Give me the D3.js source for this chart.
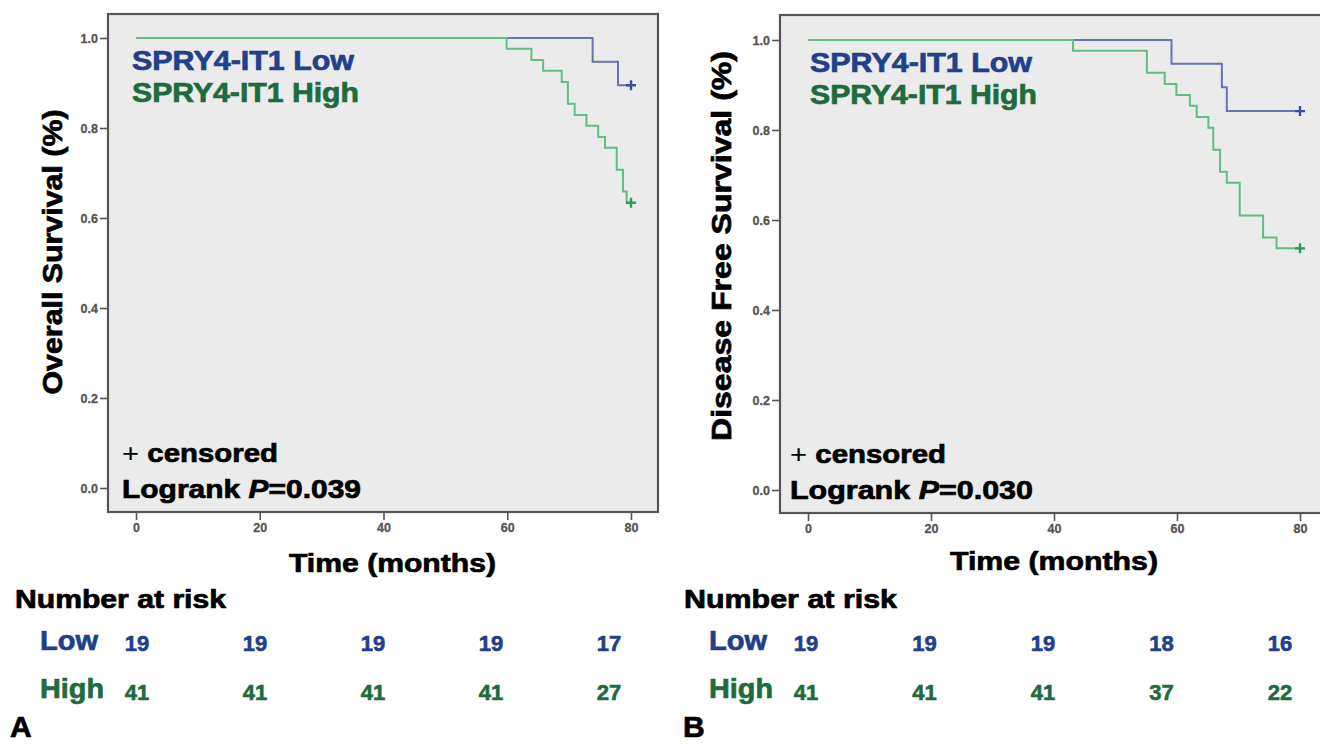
<!DOCTYPE html>
<html>
<head>
<meta charset="utf-8">
<script src="https://cdnjs.cloudflare.com/ajax/libs/d3/7.8.5/d3.min.js"></script>
<style>
body { margin: 0; background: #fff; }
svg { display: block; font-family: "Liberation Sans", Arial, sans-serif; }
</style>
</head>
<body>
<script>
// ---- data ----
var timeTicks = [0, 20, 40, 60, 80];
var survTicks = [0.0, 0.2, 0.4, 0.6, 0.8, 1.0];
var riskCols = [0, 1, 2, 3, 4];

// A: overall survival
var osLowTime  = [0, 73.8, 77.9, 80];
var osLowSurv  = [1, 0.947, 0.895, 0.895];
var osHighTime = [0, 59.9, 63.9, 65.8, 68.8, 69.8, 70.9, 72.8, 74.7, 75.8, 77.7, 78.7, 79.3, 80];
var osHighSurv = [1, 0.976, 0.951, 0.927, 0.902, 0.854, 0.829, 0.805, 0.780, 0.756, 0.707, 0.659, 0.634, 0.634];
var osRiskLow  = [19, 19, 19, 19, 17];
var osRiskHigh = [41, 41, 41, 41, 27];

// B: disease free survival
var dfsLowTime  = [0, 59.1, 67.3, 68.1, 80];
var dfsLowSurv  = [1, 0.947, 0.895, 0.842, 0.842];
var dfsHighTime = [0, 43.1, 55.1, 58.0, 59.9, 62.1, 63.2, 65.1, 65.9, 67.0, 68.1, 70.2, 74.0, 76.2, 80];
var dfsHighSurv = [1, 0.976, 0.927, 0.902, 0.878, 0.854, 0.829, 0.805, 0.756, 0.707, 0.683, 0.610, 0.561, 0.537, 0.537];
var dfsRiskLow  = [19, 19, 19, 18, 16];
var dfsRiskHigh = [41, 41, 41, 37, 22];

var blueText = "#22408a", greenText = "#1d6b3e";
var blueLine = "#6773b2", greenLine = "#62bd80";
var blueMark = "#3b4c9c", greenMark = "#2f9a55";

var svg = d3.select("body").append("svg")
	.attr("width", 1320)
	.attr("height", 744);

function zip(t, s) {
	return t.map(function(d, i) { return {t: d, s: s[i]}; });
}

// heavy bold text, stretched to the measured width
function label(g, x, y, str, size, color, len) {
	var t = g.append("text")
		.attr("x", x).attr("y", y)
		.attr("font-size", size)
		.attr("font-weight", "bold")
		.attr("fill", color)
		.attr("stroke", color)
		.attr("stroke-width", 0.7)
		.text(str);
	if (len) t.attr("textLength", len).attr("lengthAdjust", "spacingAndGlyphs");
	return t;
}

function drawPanel(p) {
	var g = svg.append("g");

	var x = d3.scaleLinear().domain([0, 80]).range(p.xRange);
	var y = d3.scaleLinear().domain([0, 1]).range(p.yRange);

	// plot box
	g.append("rect")
		.attr("x", p.box[0]).attr("y", p.box[1])
		.attr("width", p.box[2] - p.box[0]).attr("height", p.box[3] - p.box[1])
		.attr("fill", "#ebebeb")
		.attr("stroke", "#555")
		.attr("stroke-width", 2.2);

	// axes
	var yAxis = g.append("g")
		.attr("transform", "translate(" + p.box[0] + ",0)")
		.call(d3.axisLeft(y).tickValues(survTicks).tickFormat(d3.format(".1f")).tickSize(8).tickPadding(2));
	var xAxis = g.append("g")
		.attr("transform", "translate(0," + p.box[3] + ")")
		.call(d3.axisBottom(x).tickValues(timeTicks).tickSize(8).tickPadding(3));
	[xAxis, yAxis].forEach(function(a) {
		a.select(".domain").remove();
		a.selectAll("line").attr("stroke", "#555").attr("stroke-width", 1.6);
		a.selectAll("text")
			.attr("font-family", "Liberation Sans, Arial, sans-serif")
			.attr("font-size", 12.5)
			.attr("font-weight", "bold")
			.attr("fill", "#555")
			.attr("stroke", "#555")
			.attr("stroke-width", 0.3);
	});

	// survival curves
	var line = d3.line()
		.x(function(d) { return x(d.t); })
		.y(function(d) { return y(d.s); })
		.curve(d3.curveStepAfter);

	p.curves.forEach(function(c) {
		g.append("path")
			.datum(c.data)
			.attr("fill", "none")
			.attr("stroke", c.color)
			.attr("stroke-width", 2)
			.attr("d", line);
		var last = c.data[c.data.length - 1];
		var cx = x(last.t), cy = y(last.s);
		g.append("path")
			.attr("d", "M" + (cx - 5) + "," + cy + "H" + (cx + 5) + "M" + cx + "," + (cy - 5) + "V" + (cy + 5))
			.attr("stroke", c.mark)
			.attr("stroke-width", 2.4);
	});

	// legend inside plot
	label(g, p.legX, p.legY[0], "SPRY4-IT1 Low", 27, blueText, 222);
	label(g, p.legX, p.legY[1], "SPRY4-IT1 High", 27, greenText, 227);

	var cens = g.append("text")
		.attr("x", p.noteX).attr("y", p.noteY[0])
		.attr("font-size", 26).attr("fill", "#000")
		.attr("textLength", 156).attr("lengthAdjust", "spacingAndGlyphs");
	cens.append("tspan").attr("font-weight", "normal").text("+");
	cens.append("tspan").attr("font-weight", "bold")
		.attr("stroke", "#000").attr("stroke-width", 0.7).text(" censored");

	var lr = g.append("text")
		.attr("x", p.noteX).attr("y", p.noteY[1])
		.attr("font-size", 26).attr("font-weight", "bold").attr("fill", "#000")
		.attr("stroke", "#000").attr("stroke-width", 0.7)
		.attr("textLength", p.pLen).attr("lengthAdjust", "spacingAndGlyphs");
	lr.append("tspan").text("Logrank ");
	lr.append("tspan").attr("font-style", "italic").text("P");
	lr.append("tspan").text("=" + p.pValue);

	// axis titles
	label(g, p.xTitle[0], p.xTitle[1], "Time (months)", 26, "#000", p.xTitle[2]);
	label(g, 0, 0, p.yTitle, 28, "#000", p.yTitleLen)
		.attr("text-anchor", "middle")
		.attr("transform", "translate(" + p.yTitlePos[0] + "," + p.yTitlePos[1] + ") rotate(-90)");

	// number at risk table
	label(g, p.riskX, 608, "Number at risk", 25, "#000", p.riskTitleLen);
	label(g, p.riskX + 25, 650, "Low", 28, blueText, 58);
	label(g, p.riskX + 25, 698, "High", 28, greenText, 64);

	var rx = d3.scalePoint().domain(riskCols).range(p.riskRange);
	[[p.riskLow, 651, blueText], [p.riskHigh, 700, greenText]].forEach(function(row) {
		g.selectAll(null)
			.data(row[0])
			.enter()
			.append("text")
				.attr("x", function(d, i) { return rx(i); })
				.attr("y", row[1])
				.attr("text-anchor", "middle")
				.attr("font-size", 22)
				.attr("font-weight", "bold")
				.attr("fill", row[2])
				.attr("stroke", row[2])
				.attr("stroke-width", 0.6)
				.text(function(d) { return d; });
	});

	label(g, p.letterX, 737, p.letter, 30, "#000");
}

drawPanel({
	box: [108, 14, 658, 512],
	xRange: [136, 631], yRange: [488, 38],
	curves: [
		{data: zip(osLowTime, osLowSurv), color: blueLine, mark: blueMark},
		{data: zip(osHighTime, osHighSurv), color: greenLine, mark: greenMark}
	],
	legX: 132, legY: [70, 102],
	noteX: 122, noteY: [462, 498], pValue: "0.039", pLen: 239,
	xTitle: [289, 572, 207],
	yTitle: "Overall Survival (%)", yTitlePos: [62, 252], yTitleLen: 285,
	riskX: 15, riskTitleLen: 211, riskRange: [137, 609],
	riskLow: osRiskLow, riskHigh: osRiskHigh,
	letter: "A", letterX: 10
});

drawPanel({
	box: [780, 15, 1326, 513],
	xRange: [808, 1300], yRange: [490, 40],
	curves: [
		{data: zip(dfsLowTime, dfsLowSurv), color: blueLine, mark: blueMark},
		{data: zip(dfsHighTime, dfsHighSurv), color: greenLine, mark: greenMark}
	],
	legX: 810, legY: [72, 104],
	noteX: 790, noteY: [463, 499], pValue: "0.030", pLen: 243,
	xTitle: [950, 570, 208],
	yTitle: "Disease Free Survival (%)", yTitlePos: [731, 246], yTitleLen: 390,
	riskX: 684, riskTitleLen: 213, riskRange: [806, 1280],
	riskLow: dfsRiskLow, riskHigh: dfsRiskHigh,
	letter: "B", letterX: 683
});
</script>
</body>
</html>
